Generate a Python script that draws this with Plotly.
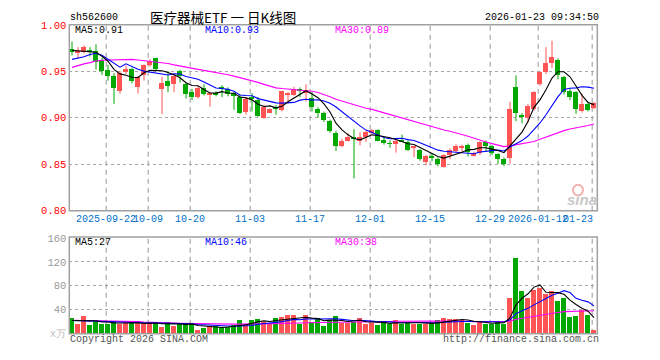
import plotly.graph_objects as go
import pandas as pd
import numpy as np

dates = [
    '2025-09-12', '2025-09-15', '2025-09-16', '2025-09-17', '2025-09-18', '2025-09-19',
    '2025-09-22', '2025-09-23', '2025-09-24', '2025-09-25', '2025-09-26', '2025-09-29', '2025-09-30',
    '2025-10-09', '2025-10-10', '2025-10-13', '2025-10-14', '2025-10-15', '2025-10-16', '2025-10-17',
    '2025-10-20', '2025-10-21', '2025-10-22', '2025-10-23', '2025-10-24', '2025-10-27', '2025-10-28',
    '2025-10-29', '2025-10-30', '2025-10-31',
    '2025-11-03', '2025-11-04', '2025-11-05', '2025-11-06', '2025-11-07', '2025-11-10', '2025-11-11',
    '2025-11-12', '2025-11-13', '2025-11-14', '2025-11-17', '2025-11-18', '2025-11-19', '2025-11-20',
    '2025-11-21', '2025-11-24', '2025-11-25', '2025-11-26', '2025-11-27', '2025-11-28',
    '2025-12-01', '2025-12-02', '2025-12-03', '2025-12-04', '2025-12-05', '2025-12-08', '2025-12-09',
    '2025-12-10', '2025-12-11', '2025-12-12', '2025-12-15', '2025-12-16', '2025-12-17', '2025-12-18',
    '2025-12-19', '2025-12-22', '2025-12-23', '2025-12-24', '2025-12-25', '2025-12-26', '2025-12-29',
    '2025-12-30', '2025-12-31',
    '2026-01-05', '2026-01-06', '2026-01-07', '2026-01-08', '2026-01-09', '2026-01-12', '2026-01-13',
    '2026-01-14', '2026-01-15', '2026-01-16', '2026-01-19', '2026-01-20', '2026-01-21', '2026-01-22',
    '2026-01-23',
]

opens = [0.974, 0.970, 0.971, 0.973, 0.972, 0.962, 0.952, 0.945, 0.929, 0.949, 0.953, 0.933, 0.9465,
         0.957, 0.964, 0.931, 0.9396, 0.936, 0.9507, 0.936, 0.9275, 0.9223, 0.9317, 0.925, 0.9265,
         0.9334, 0.931, 0.9265, 0.923, 0.9067, 0.9223, 0.9196, 0.8998, 0.9057, 0.912, 0.9085, 0.925,
         0.9247, 0.9315, 0.9265, 0.9213, 0.910, 0.9057, 0.897, 0.8843, 0.8694, 0.8756, 0.8797, 0.8756,
         0.879, 0.8843, 0.887, 0.8766, 0.8725, 0.8715, 0.8766, 0.8746, 0.8680, 0.8652, 0.8531, 0.8577,
         0.8559, 0.8469, 0.860, 0.8642, 0.8687, 0.8714, 0.8594, 0.8628, 0.8739, 0.8694, 0.8607, 0.8559,
         0.8566, 0.9337, 0.9025, 0.8998, 0.9092, 0.9362, 0.9493, 0.9587, 0.9621, 0.9438, 0.9292, 0.9275,
         0.9078, 0.9147, 0.9106]
highs = [0.982, 0.976, 0.978, 0.976, 0.979, 0.9645, 0.957, 0.948, 0.950, 0.956, 0.954, 0.945, 0.9575,
         0.963, 0.9645, 0.944, 0.950, 0.947, 0.9517, 0.938, 0.931, 0.934, 0.936, 0.9275, 0.9285,
         0.935, 0.9327, 0.9275, 0.925, 0.9223, 0.9265, 0.9223, 0.9137, 0.910, 0.9137, 0.9292, 0.9275,
         0.9334, 0.9327, 0.936, 0.928, 0.9113, 0.9067, 0.898, 0.886, 0.8773, 0.8836, 0.8877, 0.8843,
         0.886, 0.8877, 0.8877, 0.879, 0.8756, 0.8766, 0.8818, 0.8756, 0.8686, 0.8663, 0.860, 0.8618,
         0.8573, 0.8607, 0.867, 0.8715, 0.871, 0.8722, 0.8635, 0.8746, 0.8756, 0.8704, 0.8618, 0.8573,
         0.9171, 0.9455, 0.905, 0.9147, 0.9285, 0.950, 0.976, 0.9829, 0.9638, 0.9448, 0.931, 0.9285,
         0.9258, 0.916, 0.917]
lows = [0.967, 0.964, 0.969, 0.966, 0.952, 0.946, 0.940, 0.915, 0.926, 0.947, 0.937, 0.926, 0.940,
        0.955, 0.950, 0.904, 0.9275, 0.9275, 0.938, 0.9206, 0.919, 0.9206, 0.924, 0.912, 0.923,
        0.9223, 0.923, 0.9085, 0.904, 0.9033, 0.9067, 0.901, 0.8988, 0.905, 0.9033, 0.9067, 0.9154,
        0.9237, 0.9223, 0.9175, 0.9067, 0.900, 0.8955, 0.884, 0.8642, 0.8683, 0.8746, 0.8348, 0.8704,
        0.8739, 0.8825, 0.8746, 0.8711, 0.8676, 0.8625, 0.8739, 0.8642, 0.8573, 0.8538, 0.849, 0.8531,
        0.8479, 0.8462, 0.8555, 0.8628, 0.8635, 0.8583, 0.8583, 0.860, 0.8635, 0.860, 0.8503, 0.8479,
        0.8507, 0.8964, 0.894, 0.8953, 0.9078, 0.9344, 0.9472, 0.9535, 0.9413, 0.925, 0.9189, 0.9043,
        0.9057, 0.9067, 0.9092]
closes = [0.972, 0.972, 0.976, 0.972, 0.960, 0.951, 0.945, 0.932, 0.948, 0.953, 0.940, 0.944, 0.957,
          0.961, 0.953, 0.938, 0.934, 0.9455, 0.945, 0.926, 0.923, 0.9327, 0.9258, 0.926, 0.925,
          0.931, 0.9258, 0.924, 0.9057, 0.9206, 0.9206, 0.9016, 0.912, 0.9092, 0.910, 0.9285, 0.926,
          0.931, 0.930, 0.930, 0.9113, 0.9057, 0.898, 0.886, 0.8697, 0.8756, 0.879, 0.878, 0.879,
          0.885, 0.887, 0.8756, 0.8728, 0.872, 0.8756, 0.8746, 0.8652, 0.8686, 0.8559, 0.859, 0.8573,
          0.8507, 0.860, 0.8652, 0.8697, 0.869, 0.8635, 0.8625, 0.8739, 0.8697, 0.8618, 0.8559, 0.8507,
          0.9092, 0.905, 0.902, 0.9126, 0.9275, 0.9493, 0.9587, 0.9656, 0.9465, 0.9275, 0.9223, 0.9092,
          0.9147, 0.9085, 0.916]
volumes = [26.6, 16.9, 28.7, 14.8, 20.1, 16.9, 16.9, 21.2, 16.9, 17.4, 17.4, 18.5, 15.8, 18.5, 18.5,
           11.5, 20.1, 13.2, 16.9, 15.8, 15.8, 6.2, 9.4, 13.2, 12.6, 10.5, 10.5, 13.7, 22.3, 16.9,
           22.3, 25.0, 20.1, 16.9, 25.5, 27.7, 30.9, 30.9, 16.9, 30.9, 20.1, 26.6, 13.2, 22.3, 29.3,
           18.5, 18.5, 20.1, 25.5, 16.9, 18.5, 14.8, 18.5, 16.9, 22.3, 16.9, 18.5, 16.9, 16.9, 16.9,
           16.9, 22.3, 25.5, 23.9, 23.9, 22.3, 18.5, 14.8, 20.1, 16.9, 16.9, 21.2, 16.9, 59.0, 127.0,
           71.0, 59.0, 73.0, 77.0, 66.0, 72.0, 55.0, 59.0, 28.0, 30.0, 40.0, 31.0, 6.0]

# moving-average values for the days before each window is full
ma5_head = [0.9725, 0.9718, 0.9718, 0.9710]
ma10_head = [0.9628, 0.9638, 0.9656, 0.9680, 0.9694, 0.9673, 0.9631, 0.9587, 0.9545]
ma30_head = [0.9542, 0.9562, 0.9580, 0.9593, 0.9611, 0.9618, 0.9621, 0.9625, 0.9625, 0.9628,
             0.9628, 0.9621, 0.9614, 0.9607, 0.9600, 0.9593, 0.9583, 0.9569, 0.9555, 0.9542,
             0.9531, 0.9521, 0.9510, 0.9500, 0.9490, 0.9479, 0.9462, 0.9448, 0.9431]
vma5_head = [22.0, 22.0, 21.5, 21.0]
vma10_head = [22.0, 22.0, 21.8, 21.5, 21.0, 20.5, 20.0, 19.6, 19.2]
vma30_head = [22.5, 22.4, 22.3, 22.2, 22.1, 22.0, 21.8, 21.6, 21.3, 21.0, 20.6, 20.2, 19.6, 19.0,
              18.6, 18.3, 18.0, 17.8, 17.5, 17.2, 16.9, 16.6, 16.3, 16.1, 15.9, 15.8, 15.8, 15.9, 16.0]

label_dates = ['2025-09-22', '2025-10-09', '2025-10-20', '2025-11-03', '2025-11-17',
               '2025-12-01', '2025-12-15', '2025-12-29', '2026-01-12', '2026-01-23']
label_texts = ['2025-09-22', '10-09', '10-20', '11-03', '11-17', '12-01', '12-15', '12-29',
               '2026-01-12', '01-23']
price_ticks = [0.80, 0.85, 0.90, 0.95, 1.00]
vol_ticks = [40, 80, 120, 160]

title_code = 'sh562600'
title_name = '医疗器械ETF 一 日K线图'
title_time = '2026-01-23 09:34:50'


def moving_avg(values, n, head):
    s = pd.Series(values, dtype=float).rolling(n).mean()
    s.iloc[:n - 1] = head
    return s.tolist()


ma5 = moving_avg(closes, 5, ma5_head)
ma10 = moving_avg(closes, 10, ma10_head)
ma30 = moving_avg(closes, 30, ma30_head)
vma5 = moving_avg(volumes, 5, vma5_head)
vma10 = moving_avg(volumes, 10, vma10_head)
vma30 = moving_avg(volumes, 30, vma30_head)

# ---------------- styling / layout ----------------
W, H = 660, 360
PX_L, PX_R = 69.3, 597.3
PX_MAIN_T, PX_MAIN_B = 20.5, 212.8
PX_VOL_T, PX_VOL_B = 240.0, 340.0
UP = '#ff5454'
DOWN = '#00a800'
GRID = '#a8a8a8'
BORDER = '#a0a0a0'
MONO = 'Liberation Mono, DejaVu Sans Mono, monospace'
GRID_SHIFT = 0.3


def xp(px):
    return px / W


def yp(py):
    return 1 - py / H


o = np.array(opens)
c = np.array(closes)
up = c >= o
colors = [UP if u else DOWN for u in up]
body_base = np.minimum(o, c)
body_h = np.maximum(np.abs(c - o), 0.0010)

fig = go.Figure()

# wicks
for flag, col in [(True, UP), (False, DOWN)]:
    wx, wy = [], []
    for d, hi, lo, u in zip(dates, highs, lows, up):
        if u == flag:
            wx += [d, d, None]
            wy += [lo, hi, None]
    fig.add_trace(go.Scatter(x=wx, y=wy, mode='lines', line=dict(color=col, width=1),
                             hoverinfo='skip', showlegend=False, xaxis='x', yaxis='y'))

# bodies
fig.add_trace(go.Bar(x=dates, y=body_h, base=body_base, width=0.8,
                     marker=dict(color=colors, line=dict(width=0)),
                     showlegend=False, xaxis='x', yaxis='y'))

# price MAs
for vals, col in [(ma30, '#ff00ff'), (ma10, '#0000ff'), (ma5, '#000000')]:
    fig.add_trace(go.Scatter(x=dates, y=vals, mode='lines', line=dict(color=col, width=1.1),
                             showlegend=False, xaxis='x', yaxis='y'))

# volume
fig.add_trace(go.Bar(x=dates, y=volumes, width=0.8,
                     marker=dict(color=colors, line=dict(width=0)),
                     showlegend=False, xaxis='x2', yaxis='y2'))
for vals, col in [(vma30, '#ff00ff'), (vma10, '#0000ff'), (vma5, '#000000')]:
    fig.add_trace(go.Scatter(x=dates, y=vals, mode='lines', line=dict(color=col, width=1.1),
                             showlegend=False, xaxis='x2', yaxis='y2'))

xr = [-0.45, len(dates) - 0.45]
common_x = dict(type='category', categoryorder='array', categoryarray=dates,
                range=xr, showgrid=False, zeroline=False,
                showticklabels=False, showline=False, fixedrange=True)

fig.update_layout(
    width=W, height=H, autosize=False,
    margin=dict(l=0, r=0, t=0, b=0),
    paper_bgcolor='white', plot_bgcolor='white',
    barmode='overlay', bargap=0,
    xaxis=dict(domain=[xp(PX_L), xp(PX_R)], anchor='y', **common_x),
    xaxis2=dict(domain=[xp(PX_L), xp(PX_R)], anchor='y2', **common_x),
    yaxis=dict(domain=[yp(PX_MAIN_B), yp(PX_MAIN_T)], range=[0.80, 1.00], anchor='x',
               tickvals=price_ticks, ticktext=['%.2f' % v for v in price_ticks],
               tickfont=dict(family=MONO, size=10.5, color='#ff0000'),
               ticks='', ticklabelstandoff=2,
               showgrid=True, gridcolor=GRID, griddash='dot', gridwidth=1,
               zeroline=False, showline=False, fixedrange=True),
    yaxis2=dict(domain=[yp(PX_VOL_B), yp(PX_VOL_T)], range=[0, 161.5], anchor='x2',
                tickvals=vol_ticks, ticktext=[str(v) for v in vol_ticks],
                tickfont=dict(family=MONO, size=10.5, color='#999999'),
                ticks='', ticklabelstandoff=2,
                showgrid=True, gridcolor=GRID, griddash='dot', gridwidth=1,
                zeroline=False, showline=False, fixedrange=True),
    showlegend=False,
)

shapes = []
for d in label_dates:
    k = dates.index(d) - GRID_SHIFT
    for yr in ['y domain', 'y2 domain']:
        shapes.append(dict(type='line', xref='x', yref=yr, x0=k, x1=k, y0=0, y1=1,
                           line=dict(color=GRID, width=1.2, dash='5px,4px'), layer='below'))
for yr in ['y domain', 'y2 domain']:
    shapes.append(dict(type='rect', xref='x domain', yref=yr, x0=0, x1=1, y0=0, y1=1,
                       line=dict(color=BORDER, width=1.5), layer='above'))
# sina watermark eye
shapes.append(dict(type='circle', xref='paper', yref='paper',
                   x0=xp(573), x1=xp(583), y0=yp(197), y1=yp(186),
                   line=dict(color='#f4b0b0', width=2), layer='below'))
fig.update_layout(shapes=shapes)

ann = []
for d, t in zip(label_dates, label_texts):
    k = dates.index(d) - GRID_SHIFT
    last = d == label_dates[-1]
    ann.append(dict(x=(dates.index(d) if last else k), y=yp(221.7), xref='x', yref='paper',
                    text=t, showarrow=False, xanchor='right' if last else 'center', yanchor='middle',
                    borderpad=0, font=dict(family=MONO, size=10, color='#0070c8')))


def txt(x, y, s, col, size=10, anchor='left', family=MONO):
    ann.append(dict(x=xp(x), y=yp(y), xref='paper', yref='paper', text=s, showarrow=False,
                    xanchor=anchor, yanchor='middle', borderpad=0,
                    font=dict(family=family, size=size, color=col)))


txt(73.5, 26.7, 'MA5:%.2f' % ma5[-1], '#000000')
txt(204, 26.7, 'MA10:%.2f' % ma10[-1], '#0000ff')
txt(334, 26.7, 'MA30:%.2f' % ma30[-1], '#ff00ff')
txt(73.5, 246, 'MA5:%d' % round(vma5[-1]), '#000000')
txt(204, 246, 'MA10:%d' % round(vma10[-1]), '#0000ff')
txt(334, 246, 'MA30:%d' % round(vma30[-1]), '#ff00ff')

txt(68.5, 13.3, title_code, '#000000')
txt(149, 12.8, title_name, '#000000', size=13.5, family='Noto Sans CJK SC')
txt(599.5, 13.3, title_time, '#000000', anchor='right')
txt(68.5, 346, 'Copyright 2026 SINA.COM', '#555555')
txt(599.5, 346, 'http://finance.sina.com.cn', '#555555', anchor='right')
txt(67, 340.5, 'x万', '#bbbbbb', anchor='right')
txt(598, 201, '<b><i>sina</i></b>', '#c8c8c8', size=15, anchor='right', family='Arial, Liberation Sans')
fig.update_layout(annotations=ann)

fig.write_html('out.html', config={'displayModeBar': False},
               post_script="document.body.style.margin='0';document.body.style.padding='0';")
